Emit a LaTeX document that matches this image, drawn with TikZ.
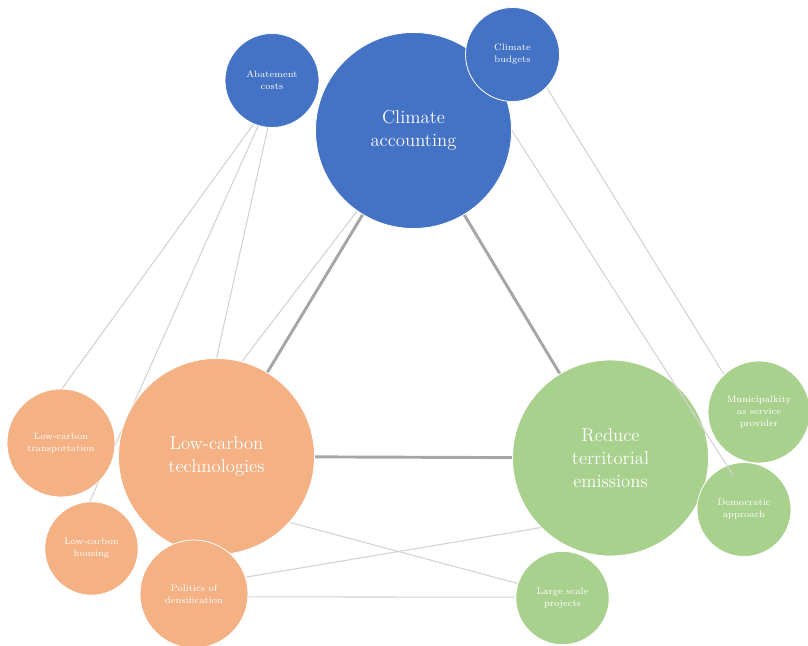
\documentclass[tikz,border=0pt]{standalone}
\usepackage{tikz}
\usetikzlibrary{backgrounds}

\definecolor{accblue}{HTML}{4472C4}
\definecolor{techorange}{HTML}{F4B183}
\definecolor{emitgreen}{HTML}{A9D18E}
\definecolor{thickgray}{HTML}{A6A6A6}
\definecolor{thingray}{HTML}{D3D3D3}

\begin{document}
\begin{tikzpicture}[x=0.75pt,y=-0.75pt,
  bubble/.style={circle,draw=white,line width=0.6pt,inner sep=0pt,text=white,align=center},
  bigtext/.style={font=\fontsize{14}{17}\selectfont},
  smalltext/.style={font=\fontsize{7}{8.8}\selectfont},
  thickline/.style={draw=thickgray,line width=2.2pt},
  thinline/.style={draw=thingray,line width=0.8pt}]

\useasboundingbox (0,0) rectangle (808,646);

% orange group
\node[bubble,fill=techorange,minimum size=147pt,bigtext] (tech) at (216.5,456.5) {Low-carbon\\technologies};
\node[bubble,fill=techorange,minimum size=81pt,smalltext] (transp) at (61,443) {Low-carbon\\transportation};
\node[bubble,fill=techorange,minimum size=70pt,smalltext] (housing) at (91.5,548.5) {Low-carbon\\housing};
\node[bubble,fill=techorange,minimum size=81pt,smalltext] (polit) at (194,594) {Politics of\\densification};

% green group
\node[bubble,fill=emitgreen,minimum size=147pt,bigtext] (reduce) at (610.5,458) {Reduce\\territorial\\emissions};
\node[bubble,fill=emitgreen,minimum size=76.5pt,smalltext] (muni) at (759,412) {Municipalkity\\as service\\provider};
\node[bubble,fill=emitgreen,minimum size=70.5pt,smalltext] (demo) at (744,509.5) {Democratic\\approach};
\node[bubble,fill=emitgreen,minimum size=70pt,smalltext] (large) at (562.5,598) {Large scale\\projects};

% blue group
\node[bubble,fill=accblue,minimum size=147pt,bigtext] (ca) at (413.5,130.5) {Climate\\accounting};
\node[bubble,fill=accblue,minimum size=70.5pt,smalltext] (abate) at (272,80.5) {Abatement\\costs};
\node[bubble,fill=accblue,minimum size=70.5pt,smalltext] (budgets) at (512.5,54.5) {Climate\\budgets};

\coordinate (demoend) at (733,475);

\begin{scope}[on background layer]
% main triangle
\draw[thickline] (tech.center) -- (ca.center);
\draw[thickline] (ca.center) -- (reduce.center);
\draw[thickline] (tech.center) -- (reduce.center);

% thin links
\draw[thinline] (abate.247) -- (transp.89);
\draw[thinline] (abate.253) -- (housing.92);
\draw[thinline] (abate.265) -- (tech.90);
\draw[thinline] (ca.235) -- (tech.75);
\draw[thinline] (budgets.316) -- (muni.133);
\draw[thinline] (tech.318) -- (large.162);
\draw[thinline] (polit.18) -- (reduce.225);
\draw[thinline] (polit.357) -- (large.179);
\end{scope}

\draw[thinline] (ca.east) -- (demoend);

\end{tikzpicture}
\end{document}
